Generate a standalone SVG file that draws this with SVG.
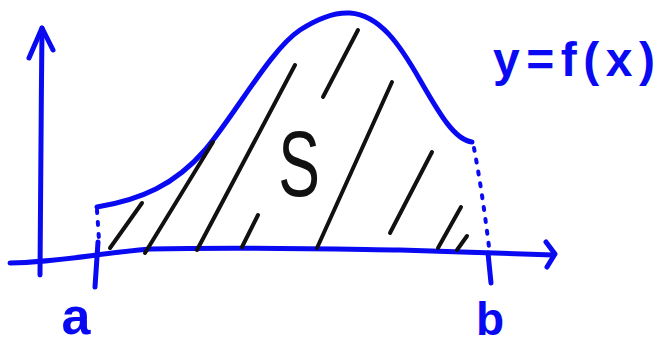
<svg xmlns="http://www.w3.org/2000/svg" width="660" height="345" viewBox="0 0 660 345">
<style>
.blue{fill:none;stroke:#0a0af2;stroke-width:5;stroke-linecap:round;stroke-linejoin:round}
.dot{fill:none;stroke:#0a0af2;stroke-width:4;stroke-linecap:round;stroke-dasharray:3 9}
.hatch{fill:none;stroke:#111;stroke-width:4;stroke-linecap:round}
.lbl{fill:#0a0af2;font-family:"Liberation Sans",Arial,sans-serif;font-weight:bold}
</style>
<rect width="660" height="345" fill="#fff"/>
<g id="axes">
<path class="blue" d="M42,28 C41,110 41,190 40,275"/>
<path class="blue" d="M29,58 L42,28 L53,50"/>
<path class="blue" d="M10,263 C60,262 100,253 150,249 C250,247 330,249 400,250 C460,252 510,254 553,255"/>
<path class="blue" d="M546,242 L555,254 L547,267"/>
<path class="blue" d="M98,242 L95,287"/>
<path class="blue" d="M488,253 L491,283"/>
</g>
<g id="curve">
<path class="blue" d="M97,207 C140,200 175,185 205,150 C235,115 270,50 300,30 C320,17 335,12 350,13 C380,15 400,45 420,80 C440,115 455,140 472,142"/>
<path class="dot" d="M97,210 L99,240"/>
<path class="dot" d="M474,148 Q482,190 489,247"/>
</g>
<g id="hatching">
<path class="hatch" d="M110,248 L142,203"/>
<path class="hatch" d="M145,253 L213,142"/>
<path class="hatch" d="M197,250 L295,65"/>
<path class="hatch" d="M242,247 L258,215"/>
<path class="hatch" d="M317,248 L392,82"/>
<path class="hatch" d="M323,97 L358,30"/>
<path class="hatch" d="M390,233 L432,152"/>
<path class="hatch" d="M438,248 L461,207"/>
<path class="hatch" d="M457,250 L467,236"/>
</g>
<g id="region-S">
<text transform="translate(299,196) scale(0.68,1)" text-anchor="middle" font-family="Liberation Sans, Arial, sans-serif" font-size="92" fill="#111">S</text>
</g>
<g id="labels">
<text class="lbl" x="76" y="334" text-anchor="middle" font-size="52">a</text>
<text class="lbl" x="490" y="335" text-anchor="middle" font-size="46">b</text>
<text class="lbl" x="493" y="76" font-size="48" textLength="162" lengthAdjust="spacing">y=f(x)</text>
</g>
</svg>
